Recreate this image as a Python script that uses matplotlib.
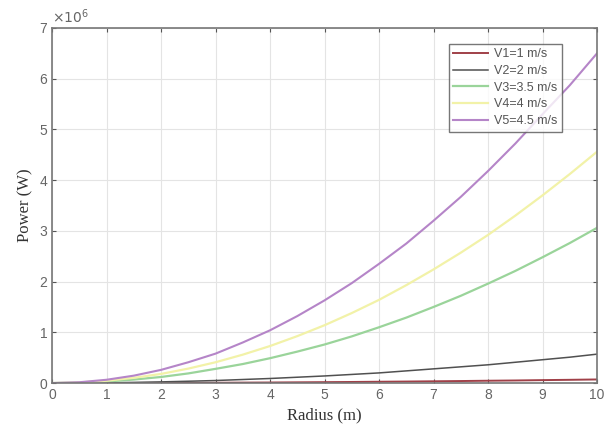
import matplotlib.pyplot as plt
import numpy as np

# values (power in units of 1e6 W)
radius = [0, 0.5, 1, 1.5, 2, 2.5, 3, 3.5, 4, 4.5, 5, 5.5, 6, 6.5, 7, 7.5, 8, 8.5, 9, 9.5, 10]
p_v1 = [0, 0.0002, 0.001, 0.0016, 0.003, 0.0045, 0.006, 0.0087, 0.011, 0.0145, 0.018,
        0.0215, 0.026, 0.03, 0.035, 0.04, 0.046, 0.051, 0.058, 0.064, 0.071]
p_v2 = [0, 0.0014, 0.006, 0.013, 0.023, 0.036, 0.05, 0.07, 0.09, 0.115, 0.14,
        0.17, 0.2, 0.24, 0.28, 0.32, 0.36, 0.41, 0.46, 0.51, 0.57]
p_v3 = [0, 0.008, 0.03, 0.069, 0.12, 0.19, 0.28, 0.375, 0.49, 0.62, 0.76,
        0.92, 1.1, 1.29, 1.5, 1.72, 1.96, 2.21, 2.48, 2.76, 3.06]
p_v4 = [0, 0.011, 0.046, 0.103, 0.18, 0.285, 0.41, 0.56, 0.73, 0.925, 1.14,
        1.38, 1.64, 1.93, 2.24, 2.57, 2.92, 3.3, 3.7, 4.12, 4.56]
p_v5 = [0, 0.016, 0.065, 0.146, 0.26, 0.41, 0.58, 0.8, 1.04, 1.32, 1.63,
        1.97, 2.35, 2.75, 3.2, 3.67, 4.18, 4.72, 5.3, 5.87, 6.5]
labels = ["V1=1 m/s", "V2=2 m/s", "V3=3.5 m/s", "V4=4 m/s", "V5=4.5 m/s"]
colors = ["#a04048", "#505050", "#9ad49a", "#f2f2a8", "#b585c8"]

fig = plt.figure(figsize=(6.05, 4.28), dpi=100)
ax = fig.add_axes([0.086, 0.105, 0.901, 0.83])

series = [p_v1, p_v2, p_v3, p_v4, p_v5]
widths = [1.4, 1.1, 1.6, 1.6, 1.5]
for vals, lab, c, w in zip(series, labels, colors, widths):
    ax.plot(radius, np.array(vals) * 1e6, color=c, lw=w, label=lab)

ax.set_xlim(0, 10)
ax.set_ylim(0, 7e6)
ax.set_xticks(range(0, 11))
ax.set_yticks(np.arange(0, 8) * 1e6)
ax.set_yticklabels([str(i) for i in range(8)])
ax.grid(True, color="#e4e4e4", lw=0.8)
ax.tick_params(direction="in", length=3, colors="#555555", labelsize=10,
               top=True, right=True)
for lbl in ax.get_xticklabels() + ax.get_yticklabels():
    lbl.set_family("Liberation Sans")
    lbl.set_color("#666666")
for s in ax.spines.values():
    s.set_color("#777777")
    s.set_linewidth(1.2)

ax.text(0.0, 1.005, r"$\times10^6$", transform=ax.transAxes, fontsize=10,
        color="#666666", va="bottom", ha="left")

ax.set_xlabel("Radius (m)", family="Liberation Serif", fontsize=12, color="#333333")
ax.set_ylabel("Power (W)", family="Liberation Serif", fontsize=12, color="#333333")

leg = ax.legend(loc="upper right", bbox_to_anchor=(0.936, 0.955),
                frameon=True, fancybox=False, edgecolor="#555555",
                handlelength=2.8, handletextpad=0.5, borderpad=0.35,
                labelspacing=0.38, borderaxespad=0,
                prop={"family": "Liberation Sans", "size": 9})
leg.get_frame().set_linewidth(1.0)
for t in leg.get_texts():
    t.set_color("#555555")

fig.savefig("out.png", dpi=100)
